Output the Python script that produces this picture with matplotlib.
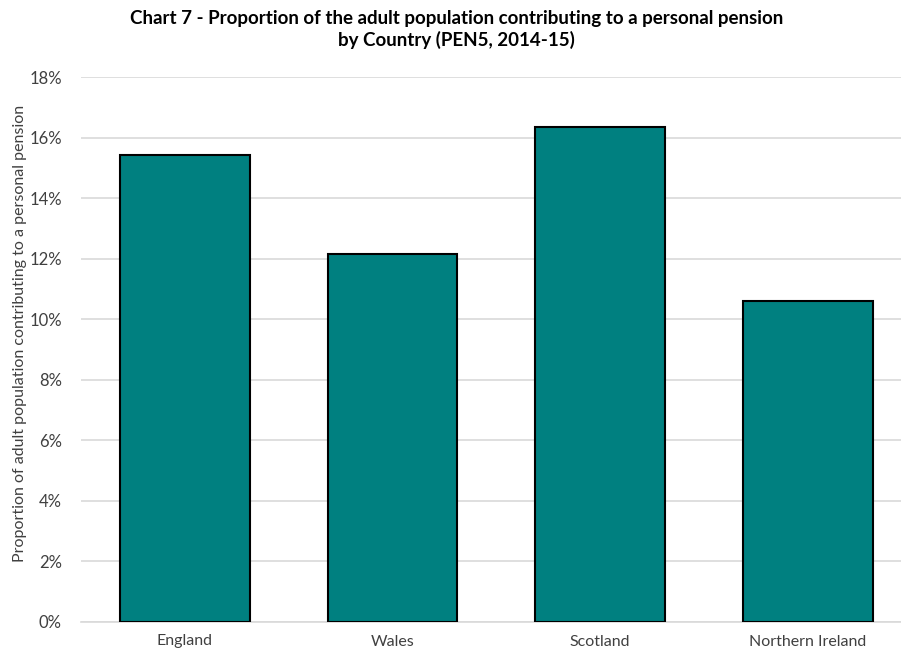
import matplotlib.pyplot as plt
from matplotlib.ticker import FuncFormatter

countries = ["England", "Wales", "Scotland", "Northern Ireland"]
share = [15.44, 12.15, 16.37, 10.60]  # % of adults contributing
yticks = [0, 2, 4, 6, 8, 10, 12, 14, 16, 18]

plt.rcParams["font.family"] = ["Lato", "DejaVu Sans"]

fig = plt.figure(figsize=(9.01, 6.53), dpi=100)
ax = fig.add_axes([81.2 / 901, 31 / 653, (901 - 81.2) / 901, (622 - 77.3) / 653])

ax.bar(range(len(countries)), share, width=0.625, color="#008080",
       edgecolor="black", linewidth=1.5, zorder=3)

ax.set_xlim(-0.5, 3.449)
ax.set_ylim(0, 18)
ax.set_yticks(yticks)
ax.yaxis.set_major_formatter(FuncFormatter(lambda v, _: f"{v:.0f}%"))
ax.set_xticks(range(len(countries)))
ax.set_xticklabels(countries, fontsize=11.5)
ax.tick_params(axis="y", labelsize=12, length=0, pad=14, colors="#404040")
ax.tick_params(axis="x", length=0, pad=9, colors="#404040")
ax.grid(axis="y", color="#d9d9d9", linewidth=1.2, zorder=0)
for side in ["top", "right", "left"]:
    ax.spines[side].set_visible(False)
ax.spines["bottom"].set_color("#d9d9d9")
ax.spines["bottom"].set_linewidth(1.2)

ax.set_ylabel("Proportion of adult population contributing to a personal pension",
              fontsize=11.5, color="#404040")
ax.yaxis.set_label_coords(-0.066, 0.53)

fig.text(0.507, 0.985, "Chart 7 - Proportion of the adult population contributing to a personal pension\nby Country (PEN5, 2014-15)",
         ha="center", va="top", fontsize=13.5, fontweight="bold", linespacing=1.3)

fig.savefig("out.png", dpi=100)
